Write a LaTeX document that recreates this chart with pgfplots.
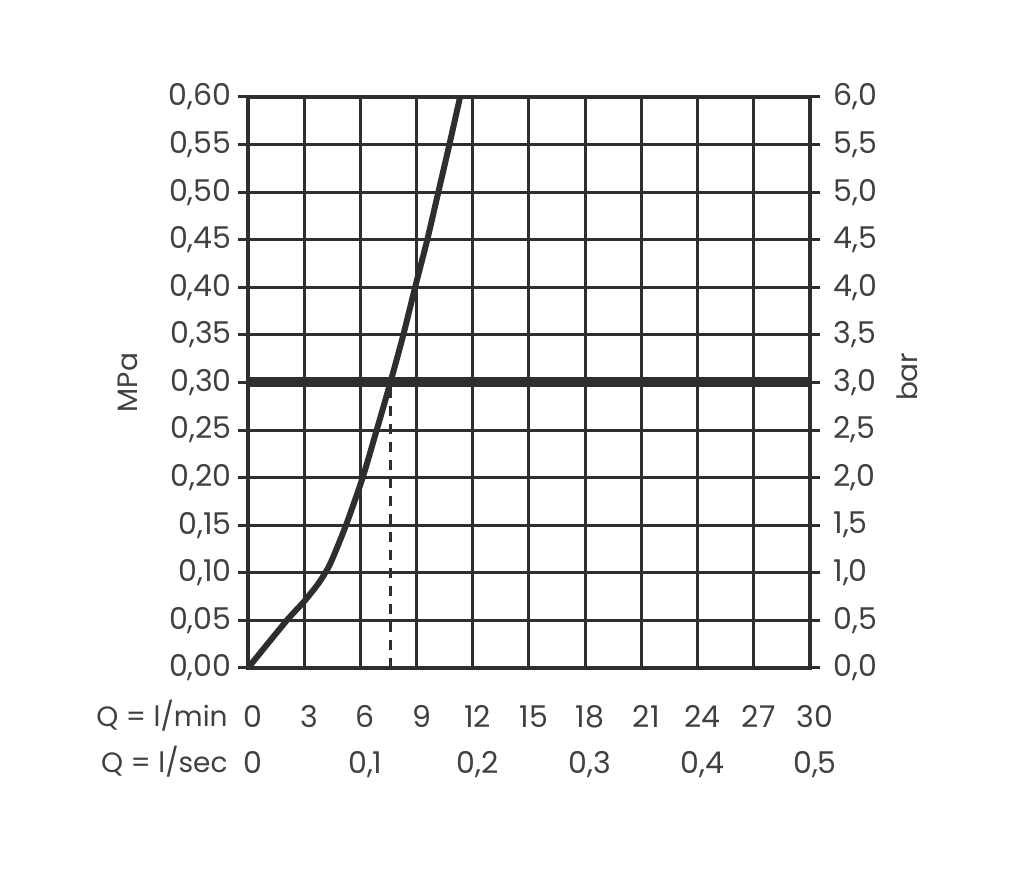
\documentclass[border=0pt]{standalone}
\usepackage{pgfplots}
\pgfplotsset{compat=1.18}
\usepackage{fontspec}
\setmainfont{Poppins}
\definecolor{ink}{HTML}{2E2E2E}
\definecolor{txt}{HTML}{404040}

% flow rate (l/min) vs. flow pressure (MPa)
\pgfplotstableread{
q     p
0     0
2.07  0.05
3.0   0.07
3.80  0.09
4.40  0.11
5.23  0.15
6.12  0.20
6.87  0.25
7.60  0.30
8.29  0.35
8.92  0.40
9.57  0.45
10.16 0.50
10.75 0.55
11.32 0.60
}\flowcurve

\begin{document}
\begin{tikzpicture}[font=\fontsize{14}{16}\selectfont, text=txt]
\useasboundingbox (-124pt,-110.5pt) rectangle (388pt,334pt);
\begin{axis}[
  name=main,
  scale only axis, width=281pt, height=285.5pt,
  xmin=0, xmax=30, ymin=0, ymax=0.6,
  clip=false,
  axis line style={ink, line width=2pt},
  grid=major,
  major grid style={ink, line width=1.5pt},
  tick label style={font=\fontsize{15}{17}\selectfont},
  xtick={0,3,6,9,12,15,18,21,24,27,30},
  xticklabels={0,3,6,9,12,15,18,21,24,27,30},
  xtick pos=bottom,
  x tick style={draw=none},
  xticklabel style={anchor=base, yshift=-25pt, xshift=2.5pt, inner sep=0pt},
  extra x ticks={0,6,12,18,24,30},
  extra x tick labels={0,{0,1},{0,2},{0,3},{0,4},{0,5}},
  extra x tick style={grid=none, xticklabel style={yshift=-23pt}},
  ytick={0,0.05,0.1,0.15,0.2,0.25,0.3,0.35,0.4,0.45,0.5,0.55,0.6},
  yticklabels={{0,00},{0,05},{0,10},{0,15},{0,20},{0,25},{0,30},{0,35},{0,40},{0,45},{0,50},{0,55},{0,60}},
  ytick pos=left,
  tick align=outside,
  major tick length=5pt,
  y tick style={ink, line width=1.5pt},
  yticklabel style={inner sep=0pt, xshift=-3pt},
]
  % operating pressure 3 bar
  \addplot[ink, line width=5pt] coordinates {(0,0.3) (30,0.3)};
  % flow at 3 bar
  \addplot[ink, line width=1.3pt, dash pattern=on 5pt off 4pt] coordinates {(7.6,0) (7.6,0.3)};
  % characteristic curve
  \addplot[ink, line width=3pt, line join=round, smooth, tension=0.4] table[x=q, y=p] {\flowcurve};

  \node[anchor=base east, inner sep=0pt] at ([xshift=-10pt, yshift=-29.5pt]axis cs:0,0) {Q = l/min};
  \node[anchor=base east, inner sep=0pt] at ([xshift=-10pt, yshift=-52.5pt]axis cs:0,0) {Q = l/sec};
  \node[rotate=90] at ([xshift=-60pt]rel axis cs:0,0.5) {MPa};
  \node[rotate=90] at ([xshift=48.5pt]rel axis cs:1,0.51) {bar};
\end{axis}
\begin{axis}[
  scale only axis, width=281pt, height=285.5pt,
  xmin=0, xmax=30, ymin=0, ymax=6,
  axis x line=none,
  axis y line*=right,
  axis line style={ink, line width=2pt},
  tick label style={font=\fontsize{15}{17}\selectfont},
  ytick={0,0.5,1,1.5,2,2.5,3,3.5,4,4.5,5,5.5,6},
  yticklabels={{0,0},{0,5},{1,0},{1,5},{2,0},{2,5},{3,0},{3,5},{4,0},{4,5},{5,0},{5,5},{6,0}},
  tick align=outside,
  major tick length=5pt,
  y tick style={ink, line width=1.5pt},
  yticklabel style={inner sep=0pt, xshift=6.5pt},
]
\end{axis}
\end{tikzpicture}
\end{document}
